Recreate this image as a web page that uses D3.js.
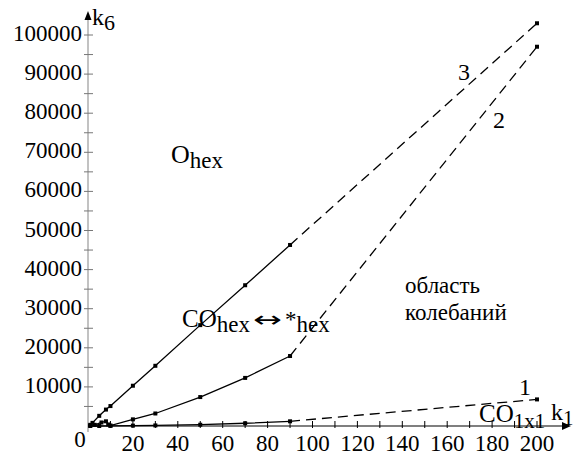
<!DOCTYPE html>
<html>
<head>
<meta charset="utf-8">
<script src="https://cdn.jsdelivr.net/npm/d3@7"></script>
<style>
  body { margin: 0; background: #fff; }
</style>
</head>
<body>
<div id="chart"></div>
<script>
const W = 574, H = 455;
const FONT = "'Liberation Serif'";

// data: [k1, k6]
const line1 = [[1, 0], [5, 0], [10, 50], [20, 100], [30, 150], [50, 330], [70, 700], [90, 1200], [200, 6800]];
const line2 = [[1, 100], [3, 300], [6, 900], [8, 1200], [9, 400], [10, 100], [20, 1700], [30, 3200], [50, 7400], [70, 12300], [90, 17900], [200, 97000]];
const line3 = [[1, 300], [2, 800], [5, 2600], [8, 4200], [10, 5100], [20, 10300], [30, 15400], [50, 25800], [70, 36000], [90, 46300], [200, 103000]];
const dashFrom = 90;

const xTicks = d3.range(0, 201, 10);
const xLabels = [20, 40, 60, 80, 100, 120, 140, 160, 180, 200];
const yTicks = d3.range(0, 100001, 5000);
const yLabels = [10000, 20000, 30000, 40000, 50000, 60000, 70000, 80000, 90000, 100000];

const svg = d3.select("#chart")
  .append("svg")
    .attr("width", W)
    .attr("height", H);

function label(txt, px, py, size) {
  return svg.append("text")
    .attr("x", px).attr("y", py)
    .style("font-family", FONT)
    .style("font-size", size + "px")
    .attr("fill", "#000")
    .text(txt);
}

const x = d3.scaleLinear().domain([0, 200]).range([88, 537]);
const y = d3.scaleLinear().domain([0, 100000]).range([426, 35]);

// y axis
svg.append("line")
  .attr("x1", x(0)).attr("x2", x(0))
  .attr("y1", 432).attr("y2", 16)
  .attr("stroke", "#999").attr("stroke-width", 1.2);
svg.append("path")
  .attr("d", `M${x(0) - 3.5},20 L${x(0)},11 L${x(0) + 3.5},20 Z`)
  .attr("fill", "#000");
svg.selectAll(".ytick")
  .data(yTicks.filter(d => d > 0))
  .enter().append("line")
    .attr("x1", x(0) - 4).attr("x2", x(0) + 5)
    .attr("y1", d => y(d)).attr("y2", d => y(d))
    .attr("stroke", "#777").attr("stroke-width", 1);
yLabels.forEach(d => {
  label(d, 82, y(d) + 6, 23).attr("text-anchor", "end");
});

// x axis
svg.append("line")
  .attr("x1", x(0)).attr("x2", 563)
  .attr("y1", y(0)).attr("y2", y(0))
  .attr("stroke", "#000").attr("stroke-width", 1.2);
svg.append("path")
  .attr("d", `M562,${y(0) - 4} L571,${y(0)} L562,${y(0) + 4} Z`)
  .attr("fill", "#000");
svg.selectAll(".xtick")
  .data(xTicks.filter(d => d > 0))
  .enter().append("line")
    .attr("x1", d => x(d)).attr("x2", d => x(d))
    .attr("y1", y(0) - 5).attr("y2", y(0) + 2)
    .attr("stroke", "#000").attr("stroke-width", 1);
xLabels.forEach(d => {
  label(d, x(d), 451, 23).attr("text-anchor", "middle");
});
label("0", 80, 447, 23).attr("text-anchor", "middle");

// axis names
label("k", 92, 25, 24).append("tspan").attr("dy", 5).style("font-size", "22px").text("6");
label("k", 551, 420, 24).append("tspan").attr("dy", 5).style("font-size", "21px").text("1");

// curves
const lineGen = d3.line().x(d => x(d[0])).y(d => y(d[1]));

[line1, line2, line3].forEach(data => {
  const solid = data.filter(d => d[0] <= dashFrom);
  const dashed = data.filter(d => d[0] >= dashFrom);
  svg.append("path")
    .attr("d", lineGen(solid))
    .attr("fill", "none").attr("stroke", "#000").attr("stroke-width", 1.3);
  svg.append("path")
    .attr("d", lineGen(dashed))
    .attr("fill", "none").attr("stroke", "#000").attr("stroke-width", 1.3)
    .attr("stroke-dasharray", "10,6");
  svg.selectAll(null)
    .data(data)
    .enter().append("rect")
      .attr("x", d => x(d[0]) - 2)
      .attr("y", d => y(d[1]) - 2)
      .attr("width", 4).attr("height", 4)
      .attr("fill", "#000");
});

// annotations
label("3", 458, 80, 24);
label("2", 493, 128, 24);
label("1", 519, 395, 24);

label("O", 171, 163, 26).append("tspan").attr("dy", 5).style("font-size", "23px").text("hex");

label("CO", 182, 327, 25).append("tspan").attr("dy", 5).style("font-size", "23px").text("hex");
label("\u2194", 253, 327, 22)
  .style("font-family", "'DejaVu Sans'")
  .attr("textLength", 29).attr("lengthAdjust", "spacingAndGlyphs");
label("*", 285, 327, 23).append("tspan").attr("dy", 5).text("hex");

label("CO", 479, 422, 25).append("tspan").attr("dy", 6).style("font-size", "21px").text("1x1");

label("область", 405, 293, 23);
label("колебаний", 405, 320, 23);
</script>
</body>
</html>
